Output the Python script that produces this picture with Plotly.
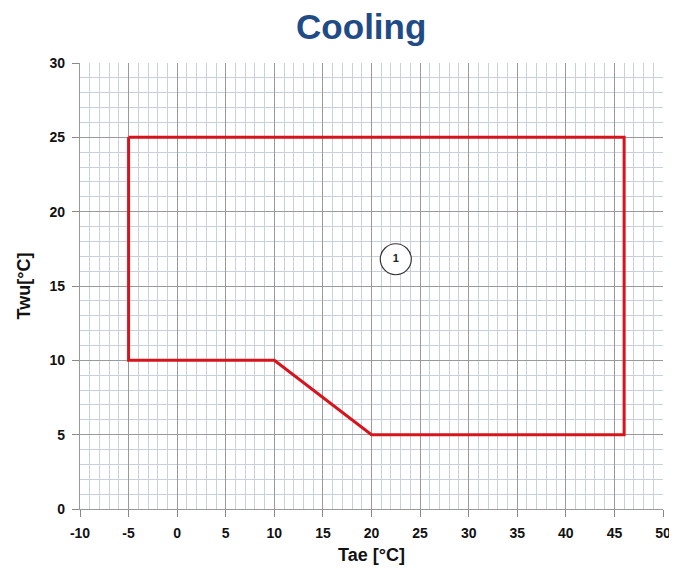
import plotly.graph_objects as go

# Operating envelope (Cooling)
env_x = [-5, 46, 46, 20, 10, -5, -5]
env_y = [25, 25, 5, 5, 10, 10, 25]
zone_x = [22.5]
zone_y = [16.8]
zone_label = ["1"]

x_ticks = list(range(-10, 51, 5))
y_ticks = list(range(0, 31, 5))

font_reg = "Liberation Sans, Arial"

fig = go.Figure()
fig.add_trace(go.Scatter(x=env_x, y=env_y, mode="lines",
                         line=dict(color="#d7141c", width=3), showlegend=False,
                         hoverinfo="skip"))
fig.add_trace(go.Scatter(x=zone_x, y=zone_y, mode="markers+text",
                         text=[f"<b>{t}</b>" for t in zone_label],
                         textposition="middle center",
                         textfont=dict(family=font_reg, size=11, color="#222222"),
                         marker=dict(size=31, color="white", line=dict(color="#333333", width=1.2)),
                         showlegend=False, hoverinfo="skip"))

axis_common = dict(
    showgrid=True, gridcolor="#9a9a9a", gridwidth=1.3,
    minor=dict(showgrid=True, dtick=1, gridcolor="#c8d0de", gridwidth=1),
    ticks="outside", ticklen=7, tickcolor="#888888",
    showline=True, linecolor="#999999", linewidth=1.3, mirror=False,
    zeroline=False, automargin=False,
    tickfont=dict(family=font_reg, size=14, color="#111111"),
)

fig.update_xaxes(range=[-10, 50], tickvals=x_ticks, ticktext=[f"<b>{v}</b>" for v in x_ticks],
                 ticklabelstandoff=4,
                 title=dict(text="<b>Tae [°C]</b>", font=dict(family=font_reg, size=18, color="#111111"), standoff=8),
                 **axis_common)
fig.update_yaxes(range=[0, 30], tickvals=y_ticks, ticktext=[f"<b>{v}</b>" for v in y_ticks],
                 ticklabelstandoff=4,
                 title=dict(text="<b>Twu[°C]</b>", font=dict(family=font_reg, size=18, color="#111111"), standoff=14),
                 **axis_common)

fig.update_layout(
    width=669, height=560,
    margin=dict(l=72, r=14, t=55, b=59, autoexpand=False),
    paper_bgcolor="white", plot_bgcolor="white",
    title=dict(text="<b>Cooling</b>", x=0.528, xanchor="center", y=0.967, yanchor="middle",
               font=dict(family=font_reg, size=35, color="#1f4b86")),
)

fig.write_html("out.html")
